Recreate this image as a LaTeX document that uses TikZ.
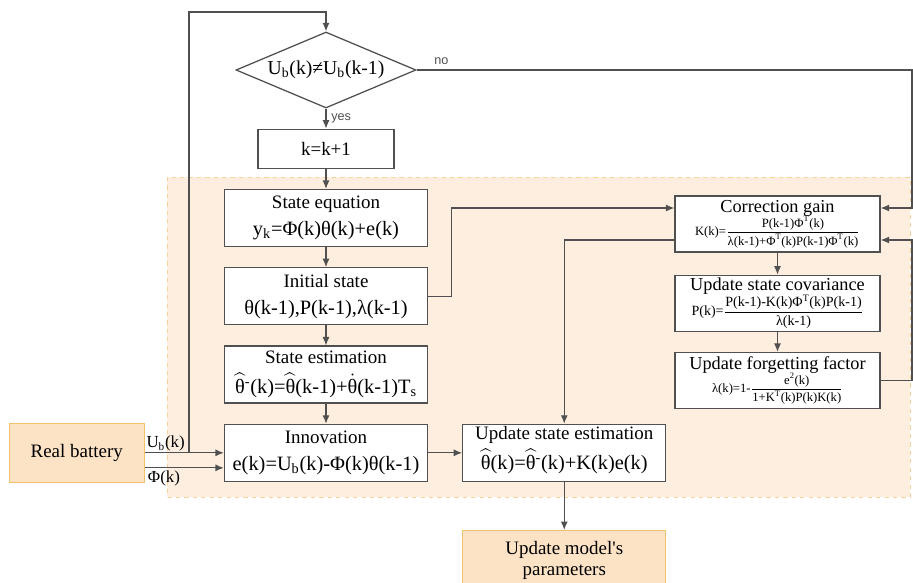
\documentclass[tikz,border=0pt]{standalone}
\usepackage{amsmath}
\usepackage{fontspec}
\setmainfont{Liberation Serif}
\newfontfamily\lblfont{Liberation Sans}
\usepackage{tikz}
\usetikzlibrary{positioning,shapes.geometric,arrows.meta}

\definecolor{bgorange}{HTML}{FDEEDF}
\definecolor{dashorange}{HTML}{F5D29A}
\definecolor{boxorange}{HTML}{FCE3C6}
\definecolor{edgeorange}{HTML}{F0C26A}
\definecolor{linegray}{HTML}{505050}

\tikzset{
  box/.style={draw=linegray, line width=0.9pt, fill=white, align=center,
    inner sep=1pt, minimum width=5.075cm, minimum height=1.425cm,
    font=\fontsize{13.5}{17}\selectfont},
  rbox/.style={box, minimum width=5.125cm, minimum height=1.4cm, inner sep=0pt,
    font=\fontsize{13}{15}\selectfont},
  obox/.style={box, fill=boxorange, draw=edgeorange},
  lbl/.style={font=\lblfont\fontsize{9}{10}\selectfont, text=linegray},
  line/.style={draw=linegray, line width=0.9pt, >={Latex[length=6pt,width=5pt]}}
}
\newcommand{\hatth}{$\widehat{\text{θ}}$}
\newcommand{\dotth}{$\dot{\text{θ}}$}
\newcommand{\sps}[1]{\textsuperscript{#1}}
\newcommand{\sbs}[1]{\textsubscript{#1}}

\begin{document}
\begin{tikzpicture}[node distance=0.5cm]
    \useasboundingbox (0,0) rectangle (22.825,-14.575);
    \fill[bgorange] (4.175,-4.425) rectangle (22.75,-12.425);
    \draw[dashorange, dashed] (4.175,-4.425) rectangle (22.75,-12.425);

    \node(dec) [draw=linegray, line width=0.9pt, fill=white, shape=diamond, aspect=2.37,
      inner sep=0pt, minimum width=4.5cm, minimum height=1.9cm,
      font=\fontsize{14}{17}\selectfont] at (8.15,-1.75) {U\sbs{b}(k)≠U\sbs{b}(k-1)};
    \node(inc) [box, minimum width=3.4cm, minimum height=0.975cm, below=of dec] {k=k+1};
    \node(steq) [box, below=of inc] {State equation\\[2pt]
      {\fontsize{14.5}{18}\selectfont y\sbs{k}=Φ(k)θ(k)+e(k)}};
    \node(init) [box, below=of steq] {Initial state\\[2pt]
      {\fontsize{14.5}{18}\selectfont θ(k-1),P(k-1),λ(k-1)}};
    \node(est) [box, below=of init] {State estimation\\[4pt]
      {\fontsize{14.5}{18}\selectfont \hatth\sps{-}(k)=\hatth(k-1)+\dotth(k-1)T\sbs{s}}};
    \node(innov) [box, below=of est] {Innovation\\[2pt]
      {\fontsize{14.5}{18}\selectfont e(k)=U\sbs{b}(k)-Φ(k)θ(k-1)}};
    \node(upd) [box, right=0.85cm of innov] {Update state estimation\\[3pt]
      {\fontsize{14.5}{18}\selectfont \hatth(k)=\hatth\sps{-}(k)+K(k)e(k)}\\[-10pt]\mbox{}};
    \node(model) [obox, minimum height=1.5cm, below=1.2cm of upd,
      font=\fontsize{13.5}{15}\selectfont] {Update model\textquotesingle s\\parameters};
    \node(bat) [obox, minimum width=3.375cm, minimum height=1.475cm, left=1.975cm of innov] {Real battery};

    \node(gain) [rbox] at (19.4375,-5.6) {Correction gain\\[-1pt]
      {\fontsize{9}{10}\selectfont $\text{K(k)=}\dfrac{\text{P(k-1)Φ\sps{T}(k)}}{\text{λ(k-1)+Φ\sps{T}(k)P(k-1)Φ\sps{T}(k)}}$}};
    \node(cov) [rbox, below=0.55cm of gain] {Update state covariance\\[-1pt]
      {\fontsize{10}{11}\selectfont $\text{P(k)=}\dfrac{\text{P(k-1)-K(k)Φ\sps{T}(k)P(k-1)}}{\text{λ(k-1)}}$}};
    \node(fgt) [rbox, below=of cov] {Update forgetting factor\\[-1pt]
      {\fontsize{9}{10}\selectfont $\text{λ(k)=1-}\dfrac{\text{e\sps{2}(k)}}{\text{1+K\sps{T}(k)P(k)K(k)}}$}};

    \coordinate(up) at (4.725,-0.3);
    \coordinate(rt) at (22.8,-1.75);
    \coordinate(phi) at ([yshift=-0.375cm]bat.east);
    \coordinate(ga) at ([yshift=0.4cm]gain.west);
    \coordinate(gb) at ([yshift=-0.4cm]gain.west);

    % decision loop
    \draw[line,->] (dec.south) -- (inc.north) node[midway,right,lbl] {yes};
    \draw[line,->] (dec.east) -- (dec.east -| rt) node[pos=0.05,above,lbl] {no}
      |- ([yshift=0.4cm]gain.east);
    \draw[line,->] (up |- bat.east) -- (up) -| (dec.north);
    % left column
    \draw[line,->] (inc) -- (steq);
    \draw[line,->] (steq) -- (init);
    \draw[line,->] (init) -- (est);
    \draw[line,->] (est) -- (innov);
    \draw[line,->] (bat.east) -- (bat.east -| innov.west);
    \draw[line,->] (phi) -- (phi -| innov.west);
    \node[anchor=south west, inner sep=1pt, font=\fontsize{12}{14}\selectfont] at (bat.east) {U\sbs{b}(k)};
    \node[anchor=north west, inner sep=2pt, font=\fontsize{12}{14}\selectfont] at (phi) {Φ(k)};
    % right column
    \draw[line,->] (init.east) -- ++(0.575,0) |- (ga);
    \draw[line,->] (gb) -| (upd.north);
    \draw[line,->] (gain) -- (cov);
    \draw[line,->] (cov) -- (fgt);
    \draw[line,->] (fgt.east) -- (fgt.east -| rt) |- ([yshift=-0.4cm]gain.east);
    \draw[line,->] (innov) -- (upd);
    \draw[line,->] (upd) -- (model);
  \end{tikzpicture}
\end{document}
